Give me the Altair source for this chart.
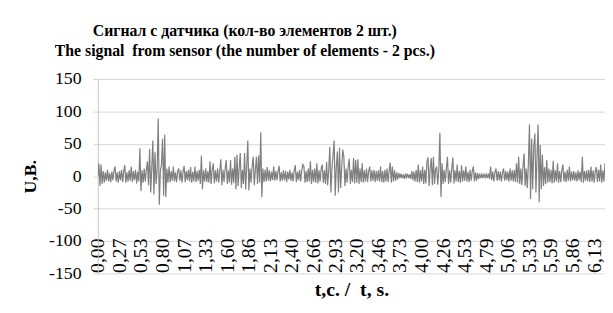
import altair as alt
import pandas as pd

# Sensor signal, one value per sample (dt ~ 0.013316 s)
U = [
    0, 20, -15, 18, -12, 8, -10, 6, -7, 10, -8, 5, -9, 7, -6, 9, 15, -8, 6, -10,
    8, -6, 10, -9, 7, 17, -10, 6, -8, 9, -7, 15, -9, 8, -6, 10, -11, 7, -8, 43,
    -23, 9, -10, 12, -8, 10, 23, -14, 42, -25, 12, 55, -28, 37, -12, 10, 89, -44, 8, 18,
    58, -30, 64, -32, 12, -10, 15, -9, 8, -7, 15, -8, 6, -9, 8, 12, -7, 9, -10, 7,
    16, -9, 8, -6, 10, -8, 14, -10, 7, -8, 15, -9, 8, -7, 10, -12, 32, -20, 9, -8,
    12, -9, 8, -10, 23, -12, 10, 20, -11, 9, -8, 12, -10, 8, 26, -14, 10, -9, 12, 25,
    -12, 9, -10, 25, -13, 12, -10, 30, -20, 33, -15, 12, 36, -18, 10, -12, 36, -20, 14, 55,
    -22, 12, -10, 15, 30, -14, 10, 30, -12, 32, -10, 68, -32, 12, -9, 10, -8, 14, -7, 9,
    -8, 7, -6, 15, -7, 8, -6, 7, 16, -8, 6, -7, 9, -6, 8, -9, 7, -5, 10, -7,
    6, -8, 9, 17, -9, 7, -6, 10, -8, 9, 18, 15, -10, 8, -9, 12, -8, 23, -12, 10,
    -9, 12, -10, 20, -11, 9, -8, 12, 18, -10, 9, -12, 22, -14, 10, 45, -25, 12, 33, 55,
    -30, 14, 38, -25, 44, -18, 12, 41, 30, -15, 12, -10, 14, 27, -12, 10, -9, 28, -11, 25,
    -10, 26, -12, 12, -9, 20, -10, 9, -8, 12, -9, 8, 15, -8, 9, -7, 10, -9, 8, -7,
    9, -8, 15, -9, 8, -10, 10, -8, 12, -9, 8, 21, -10, 15, -8, 9, -7, 6, -5, 5,
    -3, 4, -3, 3, -4, 3, -2, 4, -3, 3, -4, 8, -6, 7, -8, 10, -9, 18, -10, 9,
    -8, 15, -12, 10, -11, 22, 29, -15, 12, 28, -14, 30, -12, 10, 15, -13, 10, 67, -32, 20,
    -12, 10, -9, 12, 30, -12, 9, -10, 12, 29, -11, 9, -8, 18, -9, 8, -10, 17, -8, 9,
    -7, 15, -8, 7, -9, 10, -7, 8, 15, -8, 6, -7, 5, -4, 4, -3, 3, -3, 4, -2,
    3, -3, 4, -4, 15, -6, 7, -8, 6, 12, -7, 8, -6, 7, -8, 6, 12, -7, 8, -6,
    7, -8, 12, -7, 9, -8, 10, -9, 20, -10, 30, -12, 12, -14, 15, 35, -15, 12, -18, 20,
    80, -35, 58, -20, 45, 66, -25, 30, 80, -40, 48, -20, 33, -15, 14, -12, 25, -10, 12, -9,
    10, -11, 24, -10, 9, -8, 20, -10, 8, -9, 10, 18, -8, 7, -9, 10, -7, 15, -8, 7,
    -6, 8, -7, 6, -8, 9, -6, 7, -9, 30, -10, 8, -7, 9, -8, 10, -9, 15, -8, 9,
    -10, 8, 14, -9, 10, -8, 18, -10, 9, -8, 20,
]
DT = 0.013316
X_LABELS = ["0,00", "0,27", "0,53", "0,80", "1,07", "1,33", "1,60", "1,86",
            "2,13", "2,40", "2,66", "2,93", "3,20", "3,46", "3,73", "4,00",
            "4,26", "4,53", "4,79", "5,06", "5,33", "5,59", "5,86", "6,13"]
LABEL_STEP = 20  # samples between category labels
Y_TICKS = [-150, -100, -50, 0, 50, 100, 150]
NB = "\u00a0"
TITLE = ["Сигнал с датчика (кол-во элементов 2 шт.)",
         "The signal" + NB + " from sensor (the number of elements - 2 pcs.)"]
X_TITLE = "t,c. /" + NB + " t, s."
Y_TITLE = "U,B."

df = pd.DataFrame({"t": [i * DT for i in range(len(U))], "u": U})
step = LABEL_STEP * DT
label_vals = [k * step for k in range(len(X_LABELS))]
arr = "[" + ",".join("'" + s + "'" for s in X_LABELS) + "]"

FONT = "Liberation Serif"

line = alt.Chart(df).mark_line(color="#7f7f7f", strokeWidth=1.2, clip=True).encode(
    x=alt.X("t:Q",
            scale=alt.Scale(domain=[0, (len(U) - 1) * DT], nice=False, zero=False),
            axis=alt.Axis(values=label_vals, labelExpr=f"{arr}[round(datum.value / {step})]",
                          grid=False, domain=False, ticks=False,
                          labelAngle=270, labelAlign="left", labelBaseline="middle",
                          labelPadding=-1, labelFont=FONT, labelFontSize=20,
                          labelColor="black", labelOverlap=False, labelFlush=False,
                          title=X_TITLE, titleFont=FONT, titleFontSize=20,
                          titleFontWeight="bold", titleColor="black", titlePadding=6)),
    y=alt.Y("u:Q",
            scale=alt.Scale(domain=[-150, 150], nice=False),
            axis=alt.Axis(values=Y_TICKS, labelExpr="datum.value + ''",
                          grid=True, gridColor="#d6d6d6",
                          domainColor="#c4c4c4", tickColor="#d6d6d6", tickSize=5,
                          labelFont=FONT, labelFontSize=18, labelColor="black",
                          labelPadding=12, title=Y_TITLE, titleFont=FONT,
                          titleFontSize=18, titleFontWeight="bold", titleColor="black",
                          titlePadding=9)),
)

border = alt.Chart(alt.Data(values=[{}])).mark_rule(color="#dcdcdc", clip=False).encode(
    x=alt.value(-92), y=alt.value(-75), y2=alt.value(240)
)

chart = alt.layer(border, line).properties(
    width=514, height=197,
    autosize=alt.AutoSizeParams(type="none"),
    padding={"left": 91, "top": 70, "right": 0, "bottom": 30},
    title=alt.TitleParams(text=TITLE, font=FONT, fontSize=16, fontWeight="bold",
                          color="black", anchor="middle", frame="group", dx=-108,
                          offset=-55, lineHeight=20),
).configure_view(strokeWidth=0)

chart.save("out.html", embed_options={"renderer": "svg", "actions": False})
